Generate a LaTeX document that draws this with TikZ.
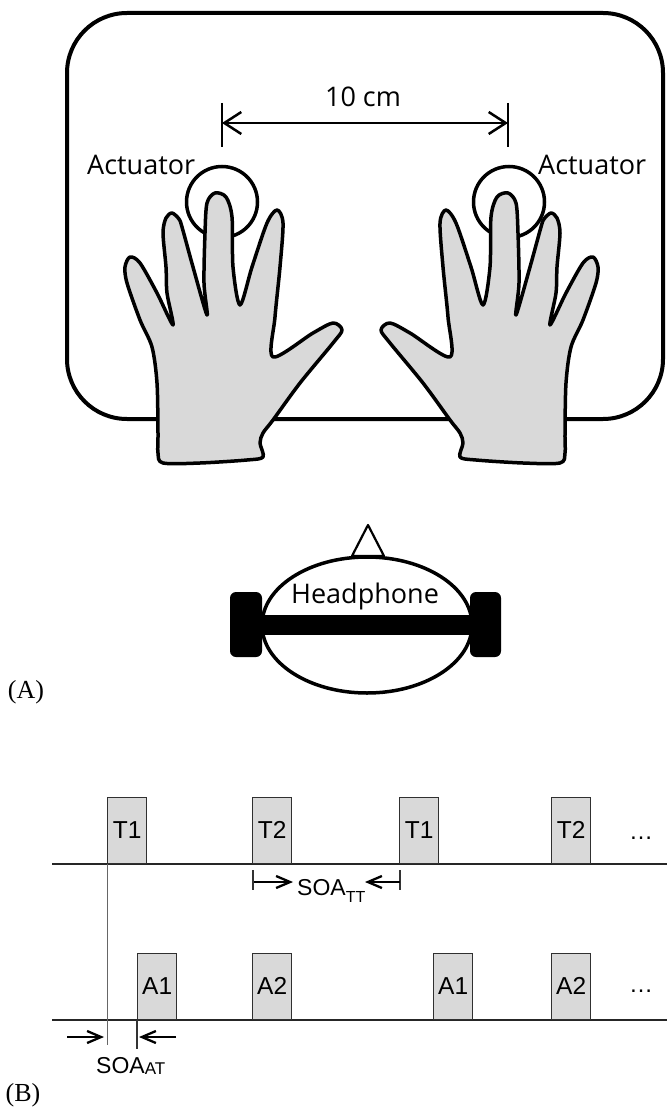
\documentclass[tikz,border=0pt]{standalone}
\usepackage{fontspec}
\setmainfont{Liberation Serif}
\newfontfamily\uifont{Open Sans}
\newfontfamily\arialfont{Liberation Sans}
\usetikzlibrary{arrows.meta}
\definecolor{handgray}{HTML}{D9D9D9}
\definecolor{boxgray}{HTML}{D9D9D9}
\definecolor{boxedge}{HTML}{303030}
\tikzset{
  handline/.style={draw=black, line width=3.5, fill=handgray, line join=round},
  handpic/.pic={
    \draw[handline] plot[smooth cycle, tension=0.5] coordinates {
      (130,257) (140,263) (157,293) (173,325) (167,293) (166,267) (163,233) (166,218) (172,213)
      (179,219) (182,227) (193,267) (207,315) (204,283) (205,233) (207,203) (215,193)
      (226,197) (232,217) (233,267) (240,305) (252,267) (267,223) (277,210) (283,223)
      (280,267) (275,317) (273,357) (313,333) (333,323) (342,330) (333,343) (300,383)
      (273,420) (263,433) (260,443) (263,457) (247,460) (200,463) (163,463) (158,453)
      (158,433) (157,383) (152,347) (140,320) (127,283) (125,267)};
  },
  actuator/.style={circle, draw=black, line width=3.5, fill=white, minimum size=71, inner sep=0},
  uitext/.style={font=\uifont\fontsize{27}{32}\selectfont, inner sep=0},
  pulse/.style={draw=boxedge, fill=boxgray, line width=1.3, minimum width=39, minimum height=66,
    inner sep=0, font=\arialfont\fontsize{24.5}{28}\selectfont},
  timeline/.style={draw=black!85, line width=2.5},
  barb/.style={line width=2.3, -{Straight Barb[length=14pt,width=12pt,line width=2.3pt]}},
  dimbarb/.style={line width=2.5, {Straight Barb[length=17pt,width=22pt,line width=2.5pt]}-{Straight Barb[length=17pt,width=22pt,line width=2.5pt]}},
  tick/.style={line width=1.2, draw=black!80},
  lbl/.style={font=\fontsize{26}{30}\selectfont, inner sep=0}
}
\begin{document}
\begin{tikzpicture}[x=1pt,y=-1pt]
\useasboundingbox (0,0) rectangle (667,1113);
% table
\draw[line width=4, rounded corners=60] (67,13) rectangle (663,419);
% actuators
\node[actuator] (act1) at (222,202) {};
\node[actuator] (act2) at (509,202) {};
% hands
\pic (lefthand) at (0,0) {handpic};
\pic[xscale=-1] (righthand) at (723,0) {handpic};
% dimension
\coordinate (d1t) at (222,103); \coordinate (d1b) at (222,147);
\coordinate (d2t) at (508,103); \coordinate (d2b) at (508,147);
\coordinate (d1) at (222,123); \coordinate (d2) at (508,123);
\draw[line width=2.5] (d1t) -- (d1b);
\draw[line width=2.5] (d2t) -- (d2b);
\draw[dimbarb] (d1) -- (d2);
\node[uitext, anchor=base] (dist) at (363,107) {10 cm};
\node[uitext, anchor=base west] (lab1) at (87,174) {Actuator};
\node[uitext, anchor=base west] (lab2) at (538,174) {Actuator};
% headphone
\draw[line width=2.2, line join=round] (352,556) -- (368,525) -- (384,556) -- cycle;
\draw[line width=3.5, fill=white] (367,625) ellipse [x radius=105, y radius=68];
\fill[black] (260,615) rectangle (473,635);
\fill[black, rounded corners=6] (230,592) rectangle (262,657);
\fill[black, rounded corners=6] (470,592) rectangle (501,657);
\node[uitext, anchor=base] (hp) at (365,603) {Headphone};
\node[lbl] (labA) at (26,692) {(A)};
% timeline top
\coordinate (ta) at (52,864); \coordinate (tb) at (667,864);
\draw[timeline] (ta) -- (tb);
\node[pulse, anchor=south west] (p1) at (107,864) {T1};
\node[pulse, anchor=south west] (p2) at (252,864) {T2};
\node[pulse, anchor=south west] (p3) at (399,864) {T1};
\node[pulse, anchor=south west] (p4) at (551,864) {T2};
\node[font=\arialfont\fontsize{24}{27}\selectfont, inner sep=0] (dots1) at (641,838) {…};
% SOA_TT
\node[font=\arialfont\fontsize{23}{27}\selectfont, inner sep=0, anchor=base west] (soatt) at (297,895) {SOA\raisebox{-7pt}{\fontsize{16}{18}\selectfont TT}};
\draw[tick] (p2.south west) ++(1,6) coordinate (s1a) -- ++(0,20) coordinate (s1b);
\draw[tick] (p3.south west) ++(1,6) coordinate (s2a) -- ++(0,20) coordinate (s2b);
\coordinate (s1m) at (254,882); \coordinate (s2m) at (400,882);
\draw[barb] (s1m) -- (293,882) coordinate (s1e);
\draw[barb] (s2m) -- (365,882) coordinate (s2e);
% timeline bottom
\coordinate (ba) at (52,1020); \coordinate (bb) at (667,1020);
\draw[timeline] (ba) -- (bb);
\node[pulse, anchor=south west] (q1) at (137,1020) {A1};
\node[pulse, anchor=south west] (q2) at (252,1020) {A2};
\node[pulse, anchor=south west] (q3) at (433,1020) {A1};
\node[pulse, anchor=south west] (q4) at (551,1020) {A2};
\node[font=\arialfont\fontsize{24}{27}\selectfont, inner sep=0] (dots2) at (641,991) {…};
% SOA_AT
\coordinate (v1) at (107,1045);
\draw[line width=1, draw=black!60] (p1.south west) -- (v1);
\coordinate (v2) at (137,1049);
\draw[tick] (q1.south west) -- (v2);
\coordinate (aa) at (67,1037); \coordinate (ab) at (104,1037);
\coordinate (ac) at (176,1037); \coordinate (ad) at (139,1037);
\draw[barb] (aa) -- (ab);
\draw[barb] (ac) -- (ad);
\node[font=\arialfont\fontsize{23}{27}\selectfont, inner sep=0, anchor=base west] (soaat) at (96,1073) {SOA\raisebox{-1pt}{\fontsize{17}{18}\selectfont AT}};
\node[lbl] (labB) at (23,1095) {(B)};
\end{tikzpicture}
\end{document}
